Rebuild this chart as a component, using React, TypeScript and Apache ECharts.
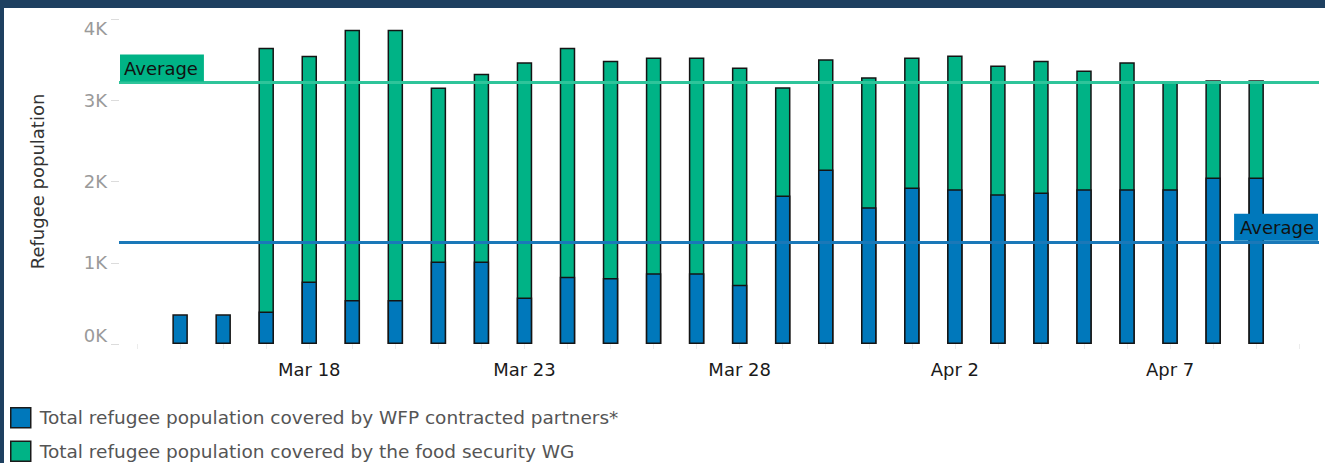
import { useEffect, useRef } from "react";
import * as echarts from "echarts";

const dates = [
  "Mar 15", "Mar 16", "Mar 17", "Mar 18", "Mar 19", "Mar 20", "Mar 21", "Mar 22",
  "Mar 23", "Mar 24", "Mar 25", "Mar 26", "Mar 27", "Mar 28", "Mar 29", "Mar 30",
  "Mar 31", "Apr 1", "Apr 2", "Apr 3", "Apr 4", "Apr 5", "Apr 6", "Apr 7",
  "Apr 8", "Apr 9",
];

// Total refugee population covered by WFP contracted partners*
const wfpPartners = [
  365, 365, 400, 769, 543, 543, 1016, 1016, 572, 827, 811, 872, 872, 728,
  1827, 2148, 1683, 1926, 1905, 1844, 1864, 1905, 1905, 1905, 2049, 2049,
];

// Total refugee population covered by the food security WG (stacked on top)
const foodSecurityWG: (number | null)[] = [
  null, null, 3245, 2778, 3325, 3325, 2141, 2309, 2897, 2819, 2675, 2655, 2655, 2675,
  1333, 1358, 1601, 1601, 1646, 1584, 1622, 1461, 1564, 1313, 1198, 1198,
];

const labeledDays = [3, 8, 13, 18, 23];
const yTickValues = [0, 1000, 2000, 3000, 4000];

const SERIES_WFP = "Total refugee population covered by WFP contracted partners*";
const SERIES_WG = "Total refugee population covered by the food security WG";

const FONT = "DejaVu Sans";
const FS = 18;

export default function App() {
  const ref = useRef<HTMLDivElement>(null);

  useEffect(() => {
    document.body.style.margin = "0";
    if (!ref.current) return;
    const chart = echarts.init(ref.current, undefined, { renderer: "svg" });

    // stacked top of each bar = WFP partners + food security WG
    const totals = wfpPartners.map((b, i) => b + (foodSecurityWG[i] ?? 0));
    const blueAvg = wfpPartners.reduce((a, b) => a + b, 0) / wfpPartners.length;
    const totalAvg = totals.reduce((a, b) => a + b, 0) / totals.length;

    const allDays: number[] = [];
    for (let d = -1; d <= dates.length; d++) allDays.push(d);

    chart.setOption({
      animation: false,
      textStyle: { fontFamily: FONT },
      graphic: [
        { type: "rect", left: 0, top: 0, shape: { width: 1325, height: 8 }, style: { fill: "#1e4060" } },
        { type: "rect", left: 0, top: 0, shape: { width: 4, height: 463 }, style: { fill: "#1e4060" } },
      ],
      grid: { left: 119, right: 6, top: 19, bottom: 119 },
      legend: {
        orient: "vertical",
        left: 10,
        top: 407,
        padding: 0,
        itemWidth: 20,
        itemHeight: 20,
        itemGap: 12,
        icon: "rect",
        data: [SERIES_WFP, SERIES_WG],
        itemStyle: { borderColor: "#1a1a1a", borderWidth: 1.5 },
        textStyle: { fontSize: 18.5, color: "#555", fontFamily: FONT, padding: [0, 0, 0, 4] },
        selectedMode: false,
      },
      xAxis: {
        type: "value",
        min: -1.42,
        max: dates.length + 0.46,
        axisLine: { show: false },
        splitLine: { show: false },
        axisTick: {
          show: true,
          customValues: allDays,
          length: 5,
          lineStyle: { color: "#ececec" },
        },
        axisLabel: {
          customValues: labeledDays,
          formatter: (v: number) => dates[Math.round(v)] ?? "",
          color: "#1a1a1a",
          fontSize: FS,
          margin: 16,
          fontFamily: FONT,
        },
      },
      yAxis: {
        type: "value",
        min: 0,
        max: 4000,
        interval: 1000,
        name: "Refugee population",
        nameLocation: "middle",
        nameRotate: 90,
        nameGap: 73,
        nameTextStyle: { color: "#333", fontSize: FS, fontFamily: FONT },
        axisLine: { show: false, onZero: false },
        splitLine: { show: false },
        axisTick: { show: true, length: 8, lineStyle: { color: "#dcdcdc" } },
        axisLabel: {
          formatter: (v: number) => (yTickValues.includes(v) ? `${v / 1000}K` : ""),
          color: "#9a9a9a",
          fontSize: FS,
          margin: 12,
          fontFamily: FONT,
          verticalAlignMaxLabel: "top",
          verticalAlignMinLabel: "bottom",
        },
      },
      series: [
        {
          name: SERIES_WG,
          type: "bar",
          barWidth: 15.5,
          barGap: "-100%",
          data: totals.map((v, i) => [i, foodSecurityWG[i] == null ? null : v]),
          itemStyle: { color: "#00b386", borderColor: "#141414", borderWidth: 1.5 },
          markLine: {
            silent: true,
            symbol: "none",
            z: 10,
            data: [{ yAxis: totalAvg }],
            lineStyle: { color: "#2ec49a", width: 3, type: "solid" },
            label: {
              show: true,
              position: "insideStartTop",
              formatter: "Average",
              backgroundColor: "#00b386",
              color: "#111",
              fontSize: FS,
              fontFamily: FONT,
              padding: [5, 6, 4, 4],
              distance: [1, 1],
            },
          },
        },
        {
          name: SERIES_WFP,
          type: "bar",
          barWidth: 15.5,
          barGap: "-100%",
          data: wfpPartners.map((v, i) => [i, v]),
          itemStyle: { color: "#0078bb", borderColor: "#141414", borderWidth: 1.5 },
          markLine: {
            silent: true,
            symbol: "none",
            z: 10,
            data: [{ yAxis: blueAvg }],
            lineStyle: { color: "#1a78b8", width: 3, type: "solid" },
            label: {
              show: true,
              position: "insideEndTop",
              formatter: "Average",
              backgroundColor: "#0078bb",
              color: "#111",
              fontSize: FS,
              fontFamily: FONT,
              padding: [5, 4, 4, 6],
              distance: [1, 1],
            },
          },
        },
      ],
    });

    return () => chart.dispose();
  }, []);

  return <div ref={ref} style={{ width: 1325, height: 463 }} />;
}
